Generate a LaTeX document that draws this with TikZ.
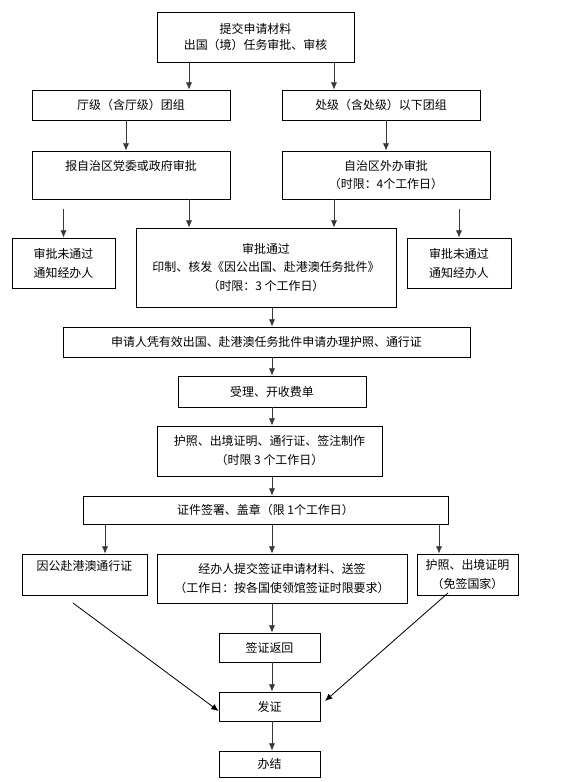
\documentclass[tikz,border=0pt]{standalone}
\usepackage{fontspec}
\newfontfamily\cjk{Noto Sans CJK SC}
\usetikzlibrary{positioning,arrows.meta,calc}

\begin{document}
\begin{tikzpicture}[x=0.03cm, y=-0.03cm, font=\cjk\fontsize{10.2pt}{16.2pt}\selectfont,
        box/.style={draw=black, line width=0.7pt, align=center, inner sep=0pt},
        flow/.style={draw=black!78, line width=0.7pt, -{Latex[length=2.2mm,width=1.9mm]}}]
        \useasboundingbox (0,0) rectangle (571,782);
        % x positions of the vertical arrows
        \foreach \n/\x in {cb/126,cl/189,cm/272,cr/334,cs/386,ck/105,cf/439}{\coordinate (\n) at (\x,0);}
        % approval stage
        \node[box, minimum width=5.91cm, minimum height=1.5cm] (submit) at (255.5,37) {提交申请材料\\[-2pt]出国（境）任务审批、审核};
        \node[box, minimum width=5.94cm, minimum height=0.9cm] (ting) at (131,105) {厅级（含厅级）团组};
        \node[box, minimum width=5.94cm, minimum height=0.9cm] (chu) at (381,105) {处级（含处级）以下团组};
        \node[box, minimum width=5.94cm, minimum height=1.44cm] (bao) at (131,175) {报自治区党委或政府审批\\\mbox{}};
        \node[box, minimum width=6.24cm, minimum height=1.44cm] (waiban) at (386,175) {自治区外办审批\\（时限：4个工作日）};
        \node[box, minimum width=3.09cm, minimum height=1.5cm] (failL) at (63.5,263) {审批未通过\\通知经办人};
        \node[box, minimum width=7.8cm, minimum height=2.37cm] (pass) at (266,267.5) {审批通过\\印制、核发《因公出国、赴港澳任务批件》\\（时限：3 个工作日）};
        \node[box, minimum width=3.12cm, minimum height=1.5cm] (failR) at (459,263) {审批未通过\\通知经办人};
        % certificate stage
        \node[box, minimum width=12.21cm, minimum height=0.9cm] (apply) at (266.5,342) {申请人凭有效出国、赴港澳任务批件申请办理护照、通行证};
        \node[box, minimum width=5.64cm, minimum height=0.93cm] (accept) at (272,391.5) {受理、开收费单};
        \node[box, minimum width=6.75cm, minimum height=1.5cm] (make) at (269.5,451) {护照、出境证明、通行证、签注制作\\（时限 3 个工作日）};
        \node[box, minimum width=10.95cm, minimum height=0.84cm] (sign) at (265.5,510) {证件签署、盖章（限 1个工作日）};
        \node[box, minimum width=3.75cm, minimum height=1.23cm] (hk) at (84.5,574.5) {因公赴港澳通行证\\\mbox{}};
        \node[box, minimum width=7.5cm, minimum height=1.47cm] (visa) at (282,578.5) {经办人提交签证申请材料、送签\\（工作日：按各国使领馆签证时限要求）};
        \node[box, minimum width=3.03cm, minimum height=1.23cm] (free) at (467.5,574.5) {护照、出境证明\\（免签国家）};
        \node[box, minimum width=3.03cm, minimum height=0.87cm] (back) at (269.5,647.5) {签证返回};
        \node[box, minimum width=3.03cm, minimum height=0.87cm] (issue) at (269.5,706.5) {发证};
        \node[box, minimum width=3.03cm, minimum height=0.78cm] (done) at (269.5,764) {办结};
        % free ends
        \coordinate (failLtop) at (63.5,209);
        \coordinate (failRtop) at (459,209);
        \coordinate (hkfrom) at (73,603);
        \coordinate (freefrom) at (448,593);
        \coordinate (issueR) at (325,701);
        % connectors
        \draw[flow] (submit.south -| cl) -- (ting.north -| cl);
        \draw[flow] (submit.south -| cr) -- (chu.north -| cr);
        \draw[flow] (ting.south -| cb) -- (bao.north -| cb);
        \draw[flow] (chu.south -| cs) -- (waiban.north -| cs);
        \draw[flow] (failLtop) -- (failL.north);
        \draw[flow] (failRtop) -- (failR.north);
        \draw[flow] (bao.south -| cl) -- (pass.north -| cl);
        \draw[flow] (waiban.south -| cr) -- (pass.north -| cr);
        \foreach \a/\b in {pass/apply,apply/accept,accept/make,make/sign,sign/visa,visa/back,back/issue,issue/done}{\draw[flow] (\a.south -| cm) -- (\b.north -| cm);}
        \draw[flow] (sign.south -| ck) -- (hk.north -| ck);
        \draw[flow] (sign.south -| cf) -- (free.north -| cf);
        \draw[flow, draw=black] (hkfrom) -- ($(issue.west)+(0,4.5)$);
        \draw[flow, draw=black] (freefrom) -- (issueR);
\end{tikzpicture}
\end{document}
